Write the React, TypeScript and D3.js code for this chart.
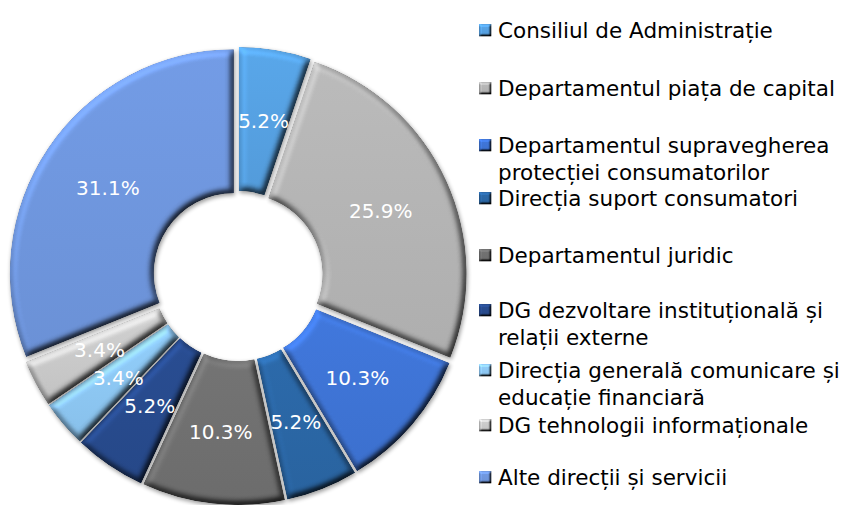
import React from "react";
import * as d3 from "d3";

const categories = [
  ["Consiliul de Administrație"],
  ["Departamentul piața de capital"],
  ["Departamentul supravegherea", "protecției consumatorilor"],
  ["Direcția suport consumatori"],
  ["Departamentul juridic"],
  ["DG dezvoltare instituțională și", "relații externe"],
  ["Direcția generală comunicare și", "educație financiară"],
  ["DG tehnologii informaționale"],
  ["Alte direcții și servicii"],
];
const values = [5.2, 25.9, 10.3, 5.2, 10.3, 5.2, 3.4, 3.4, 31.1];
const percentLabels = ["5.2%", "25.9%", "10.3%", "5.2%", "10.3%", "5.2%", "3.4%", "3.4%", "31.1%"];
const colors = ["#55A0E0", "#B3B3B3", "#3E73D4", "#2A66A4", "#6F6F6F", "#274A8C", "#8CC6F1", "#C8C8C8", "#6E95DC"];

const W = 849;
const H = 505;
const CX = 238;
const CY = 276;
const R_OUT = 224;
const R_IN = 80;
const EXPLODE = 5;
const LEGEND_X = 479;
const LEGEND_ROW_Y = [30, 88, 145, 198, 255, 310, 370, 425, 477];
const LINE_H = 27;
const FONT = "'DejaVu Sans', sans-serif";

export default function App() {
  const pie = d3.pie<number>().sort(null).value((d) => d)(values);
  const arc = d3.arc<d3.PieArcDatum<number>>().innerRadius(R_IN).outerRadius(R_OUT);

  return (
    <svg width={W} height={H} style={{ position: "absolute", left: 0, top: 0 }} xmlns="http://www.w3.org/2000/svg">
      <defs>
        <filter id="bevel" x="-15%" y="-15%" width="130%" height="130%" colorInterpolationFilters="sRGB">
          <feGaussianBlur in="SourceAlpha" stdDeviation="3.5" result="b" />
          <feDiffuseLighting in="b" surfaceScale="5" diffuseConstant="1" lightingColor="#ffffff" result="light">
            <feDistantLight azimuth="235" elevation="60" />
          </feDiffuseLighting>
          <feComposite in="SourceGraphic" in2="light" operator="arithmetic" k1="1.155" k2="0" k3="0" k4="0" result="lit" />
          <feComposite in="lit" in2="SourceAlpha" operator="in" result="litIn" />
          <feGaussianBlur in="SourceAlpha" stdDeviation="2.2" result="sb" />
          <feOffset in="sb" dx="1" dy="2" result="so" />
          <feComponentTransfer in="so" result="sa">
            <feFuncA type="linear" slope="0.4" />
          </feComponentTransfer>
          <feMerge>
            <feMergeNode in="sa" />
            <feMergeNode in="litIn" />
          </feMerge>
        </filter>
        <filter id="bevelSmall" x="-30%" y="-30%" width="160%" height="160%" colorInterpolationFilters="sRGB">
          <feGaussianBlur in="SourceAlpha" stdDeviation="1.2" result="b" />
          <feDiffuseLighting in="b" surfaceScale="3" diffuseConstant="1" lightingColor="#ffffff" result="light">
            <feDistantLight azimuth="235" elevation="55" />
          </feDiffuseLighting>
          <feComposite in="SourceGraphic" in2="light" operator="arithmetic" k1="1.22" k2="0" k3="0" k4="0" result="lit" />
          <feComposite in="lit" in2="SourceAlpha" operator="in" />
        </filter>
        {colors.map((c, i) => {
          const base = d3.color(c)!;
          return (
            <linearGradient key={i} id={`g${i}`} x1="0" y1="0" x2="0" y2="1">
              <stop offset="0%" stopColor={base.brighter(0.12).formatHex()} />
              <stop offset="100%" stopColor={base.darker(0.08).formatHex()} />
            </linearGradient>
          );
        })}
      </defs>
      <g transform={`translate(${CX},${CY})`}>
        {pie.map((d, i) => {
          const mid = (d.startAngle + d.endAngle) / 2;
          const dx = EXPLODE * Math.sin(mid);
          const dy = -EXPLODE * Math.cos(mid);
          return (
            <g key={i} transform={`translate(${dx},${dy})`}>
              <path d={arc(d) || ""} fill={`url(#g${i})`} filter="url(#bevel)" />
            </g>
          );
        })}
        {pie.map((d, i) => {
          const mid = (d.startAngle + d.endAngle) / 2;
          const [lx, ly] = arc.centroid(d);
          const dx = EXPLODE * Math.sin(mid);
          const dy = -EXPLODE * Math.cos(mid);
          return (
            <text key={i} x={lx + dx} y={ly + dy} textAnchor="middle" dominantBaseline="central" fill="#ffffff" fontFamily={FONT} fontSize={20}>
              {percentLabels[i]}
            </text>
          );
        })}
      </g>
      <g>
        {categories.map((lines, i) => {
          const y0 = LEGEND_ROW_Y[i];
          return (
            <g key={i}>
              <rect x={LEGEND_X} y={y0 - 6} width={12.5} height={12.5} fill={`url(#g${i})`} filter="url(#bevelSmall)" />
              {lines.map((t, j) => (
                <text key={j} x={LEGEND_X + 19} y={y0 + j * LINE_H} dominantBaseline="central" fill="#000000" fontFamily={FONT} fontSize={21.5}>
                  {t}
                </text>
              ))}
            </g>
          );
        })}
      </g>
    </svg>
  );
}
